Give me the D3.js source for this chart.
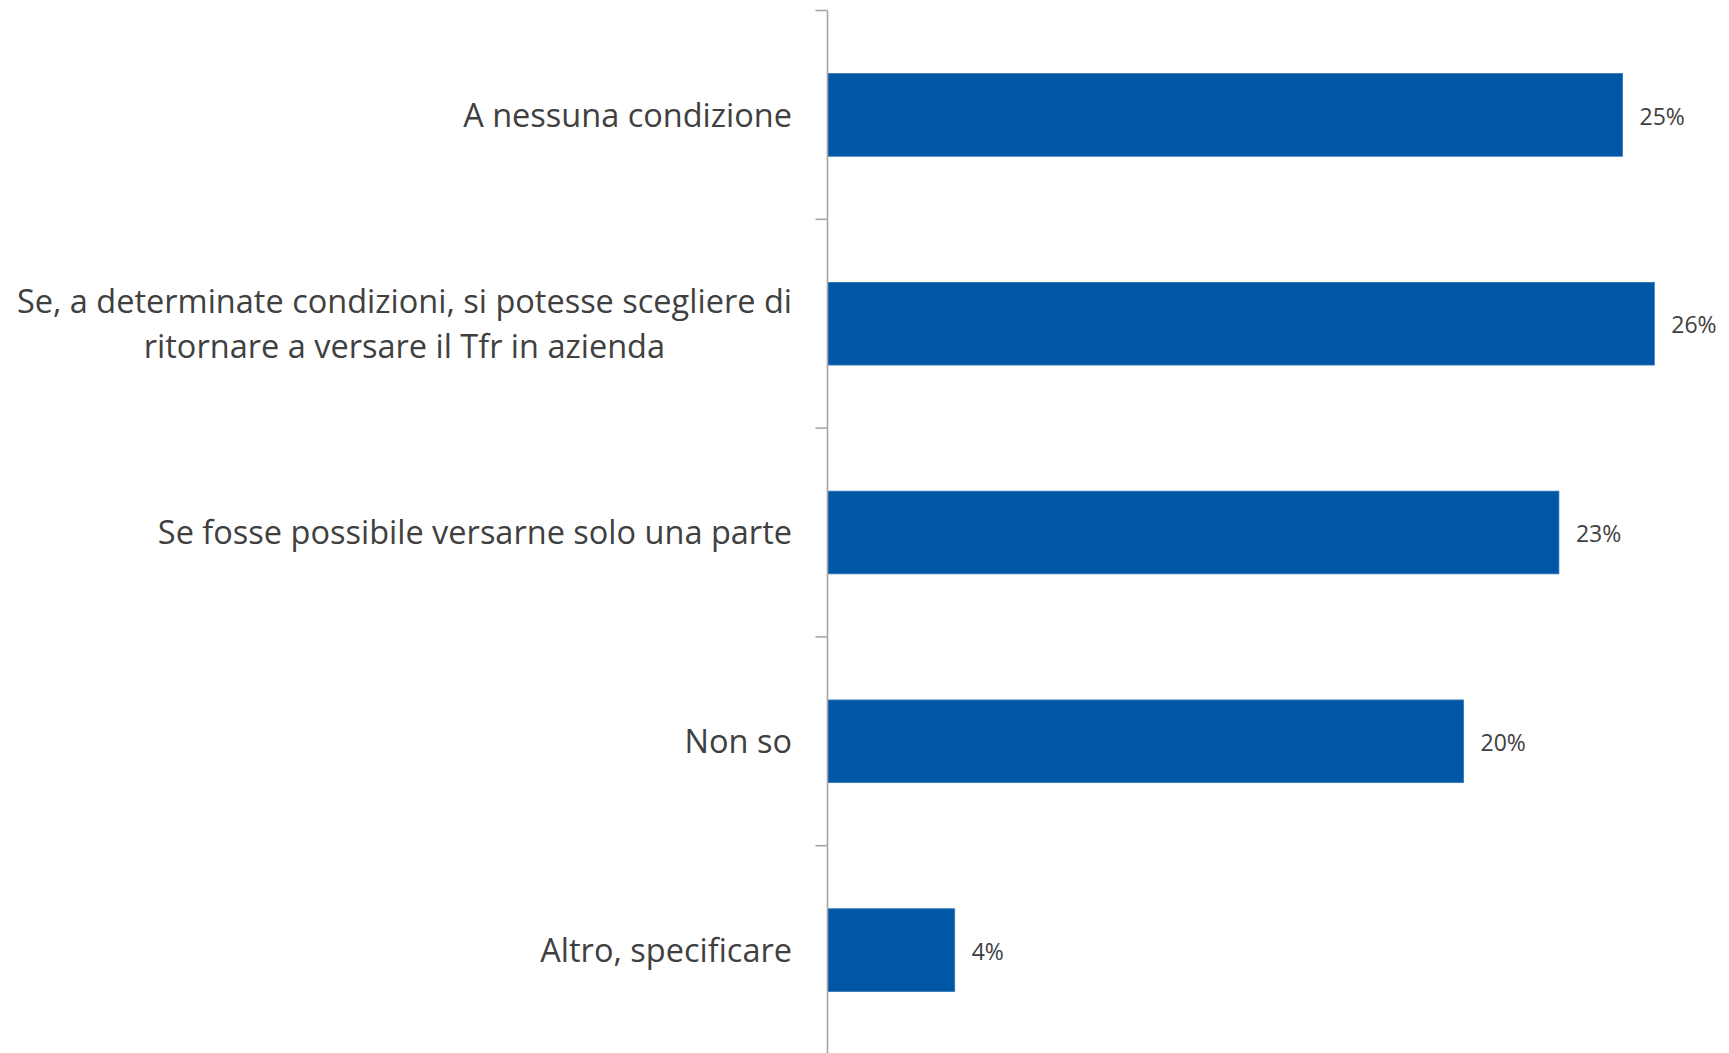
<!DOCTYPE html>
<html>
<head>
<meta charset="utf-8">
<script src="https://cdn.jsdelivr.net/npm/d3@7"></script>
<style>
html, body { margin: 0; padding: 0; background: #ffffff; }
svg { display: block; }
</style>
</head>
<body>
<svg id="chart" width="1729" height="1053"></svg>
<script>
const categories = [
  "A nessuna condizione",
  "Se, a determinate condizioni, si potesse scegliere di|ritornare a versare il Tfr in azienda",
  "Se fosse possibile versarne solo una parte",
  "Non so",
  "Altro, specificare"
];
const values = [25, 26, 23, 20, 4];
const valueLabels = ["25%", "26%", "23%", "20%", "4%"];

const W = 1729, H = 1053;
const svg = d3.select("#chart");
const axisX = 827.5;

const y = d3.scaleBand()
  .domain(categories)
  .range([10.5, 1054.5])
  .paddingInner(0.604)
  .paddingOuter(0.302);

const x = d3.scaleLinear()
  .domain([0, 28])
  .range([axisX, axisX + 28 * 31.8]);

const barColor = "#0057A5";
const textColor = "#404040";
const axisColor = "#A6A6A6";

// bars
svg.append("g").selectAll("rect")
  .data(values)
  .join("rect")
  .attr("x", x(0))
  .attr("y", (d, i) => y(categories[i]))
  .attr("width", d => x(d) - x(0))
  .attr("height", y.bandwidth())
  .attr("fill", barColor)
  .attr("stroke", "#2f74b5")
  .attr("stroke-width", 0.8);

// axis line + ticks at band boundaries
const axisG = svg.append("g");
axisG.append("line")
  .attr("x1", axisX).attr("x2", axisX)
  .attr("y1", y.range()[0]).attr("y2", y.range()[1])
  .attr("stroke", axisColor).attr("stroke-width", 1.6);
const tickPos = d3.range(categories.length + 1).map(i => y.range()[0] + i * y.step());
axisG.selectAll("line.tick")
  .data(tickPos)
  .join("line")
  .attr("class", "tick")
  .attr("x1", axisX - 12).attr("x2", axisX)
  .attr("y1", d => d).attr("y2", d => d)
  .attr("stroke", axisColor).attr("stroke-width", 1.6);

// category labels
const labelRight = 792;
const fontFamily = "'Open Sans', 'Noto Sans', sans-serif";
const catFont = 32.5;
const lineH = 45;
const labG = svg.append("g")
  .attr("font-family", fontFamily)
  .attr("font-size", catFont)
  .attr("fill", textColor);

categories.forEach((c, i) => {
  const lines = c.split("|");
  const cy = y(c) + y.bandwidth() / 2;
  const t = labG.append("text");
  const tspans = lines.map((ln, k) => t.append("tspan")
    .attr("y", cy + (k - (lines.length - 1) / 2) * lineH)
    .attr("dy", "0.36em")
    .text(ln));
  if (lines.length === 1) {
    t.attr("text-anchor", "end");
    tspans[0].attr("x", labelRight);
  } else {
    const maxW = d3.max(tspans, s => s.node().getComputedTextLength());
    t.attr("text-anchor", "middle");
    tspans.forEach(s => s.attr("x", labelRight - maxW / 2));
  }
});

// value labels
svg.append("g")
  .attr("font-family", fontFamily)
  .attr("font-size", 23)
  .attr("fill", textColor)
  .selectAll("text")
  .data(values)
  .join("text")
  .attr("x", d => x(d) + 17)
  .attr("y", (d, i) => y(categories[i]) + y.bandwidth() / 2)
  .attr("dy", "0.42em")
  .text((d, i) => valueLabels[i]);
</script>
</body>
</html>
